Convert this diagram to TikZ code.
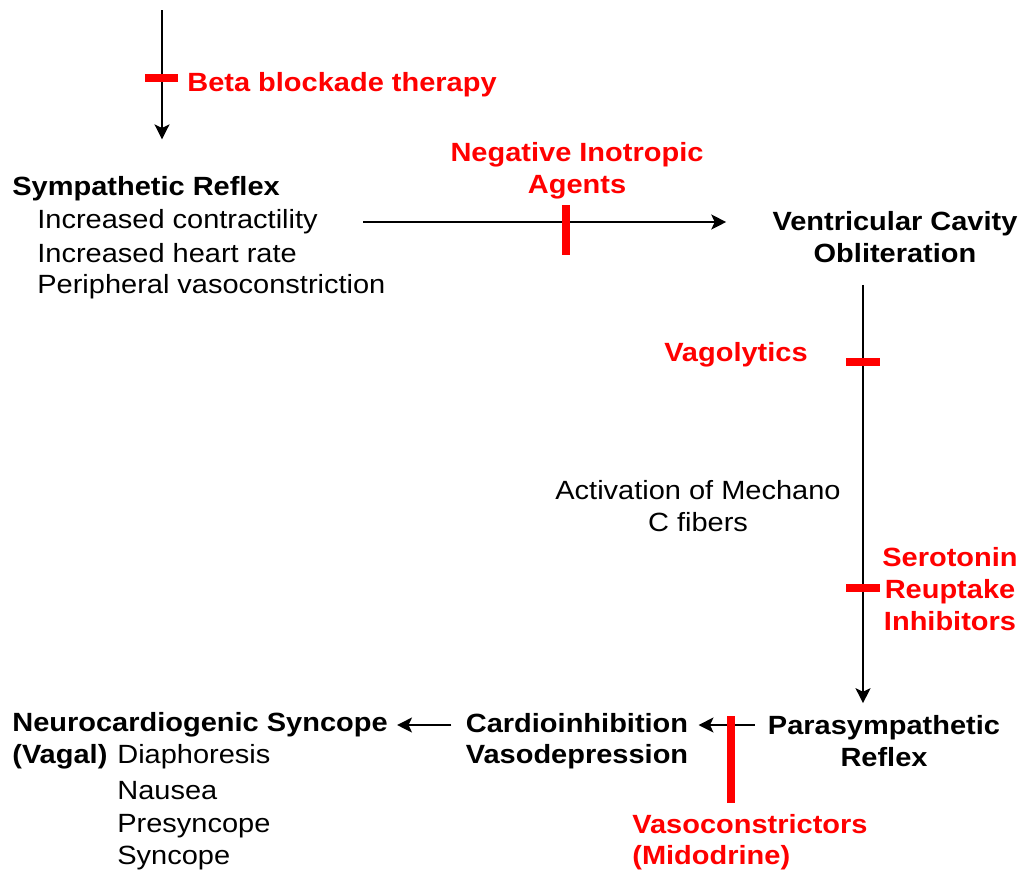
\documentclass[tikz,border=0pt]{standalone}
\usepackage{fontspec}
\setmainfont{Liberation Sans}[FakeStretch=1.1]
\usetikzlibrary{positioning,arrows.meta}

\newcommand{\diagfont}{\fontsize{15}{18}\selectfont}
\tikzstyle{title} = [font=\diagfont\bfseries, inner sep=0pt, align=center]
\tikzstyle{plain} = [font=\diagfont, inner sep=0pt, align=center]
\tikzstyle{drug} = [font=\diagfont\bfseries, text=red, inner sep=0pt, align=center]
\tikzstyle{arrow} = [line width=1.1pt,-{Stealth[length=8.5pt,width=8.5pt,inset=2pt]}]
\tikzstyle{blockbar} = [red, line width=4.5pt]

\begin{document}
\begin{tikzpicture}[x=0.02cm, y=-0.02cm]
                \useasboundingbox (0,0) rectangle (1024,873);

                % top: sympathetic side
                \coordinate (start) at (162,10);
                \node (symp) [title, anchor=west] at (12,189) {Sympathetic Reflex};
                \node (contract) [plain, anchor=west] at (37,222) {Increased contractility};
                \node (rate) [plain, anchor=west] at (37,253) {Increased heart rate};
                \node (vasocon) [plain, anchor=west] at (37,287) {Peripheral vasoconstriction};
                \node (beta) [drug, anchor=west] at (187,85) {Beta blockade therapy};

                \node (ventric) [title] at (895,237) {Ventricular Cavity\\Obliteration};
                \node (inotrop) [drug] at (577,171) {Negative Inotropic\\Agents};

                % right column
                \node (vagol) [drug, anchor=east] at (808,355) {Vagolytics};
                \node (mechano) [plain] at (698,506) {Activation of Mechano\\C fibers};
                \node (ssri) [drug] at (950,589) {Serotonin\\Reuptake\\Inhibitors};
                \node (para) [title] at (884,741) {Parasympathetic\\Reflex};

                % bottom row
                \node (cardio) [title] at (577,741) {Cardioinhibition\\Vasodepression};
                \node (vasodrug) [drug, anchor=west, align=left] at (632,842) {Vasoconstrictors\\(Midodrine)};
                \node (neuro) [title, anchor=west] at (12,725) {Neurocardiogenic Syncope};
                \node (vagal) [title, anchor=west] at (12,757) {(Vagal)};
                \node (diaph) [plain, anchor=west] at (117,757) {Diaphoresis};
                \node (nausea) [plain, anchor=west] at (117,791) {Nausea};
                \node (presync) [plain, anchor=west] at (117,826) {Presyncope};
                \node (sync) [plain, anchor=west] at (117,858) {Syncope};

                \draw [arrow, shorten >=0.74cm] (start) -- (symp.north -| start);
                \draw [arrow, shorten <=0.9cm, shorten >=0.92cm] (contract.east) -- (contract.east -| ventric.west);
                \draw [arrow, shorten <=0.44cm, shorten >=0.24cm] (ventric.south -| 863,0) -- (para.north -| 863,0);
                \draw [arrow, shorten <=0.26cm] ([yshift=0.32cm]para.west) -- ([yshift=0.32cm, xshift=0.2cm]cardio.east);
                \draw [arrow, shorten <=0.28cm, shorten >=0.18cm] (neuro.east -| cardio.west) -- (neuro.east);

                % blocking bars
                \draw [blockbar] (145,78) -- (178,78);
                \draw [blockbar] (566,205) -- (566,255);
                \draw [blockbar] (846,362) -- (880,362);
                \draw [blockbar] (846,588) -- (880,588);
                \draw [blockbar] (731,716) -- (731,803);
            \end{tikzpicture}
\end{document}
